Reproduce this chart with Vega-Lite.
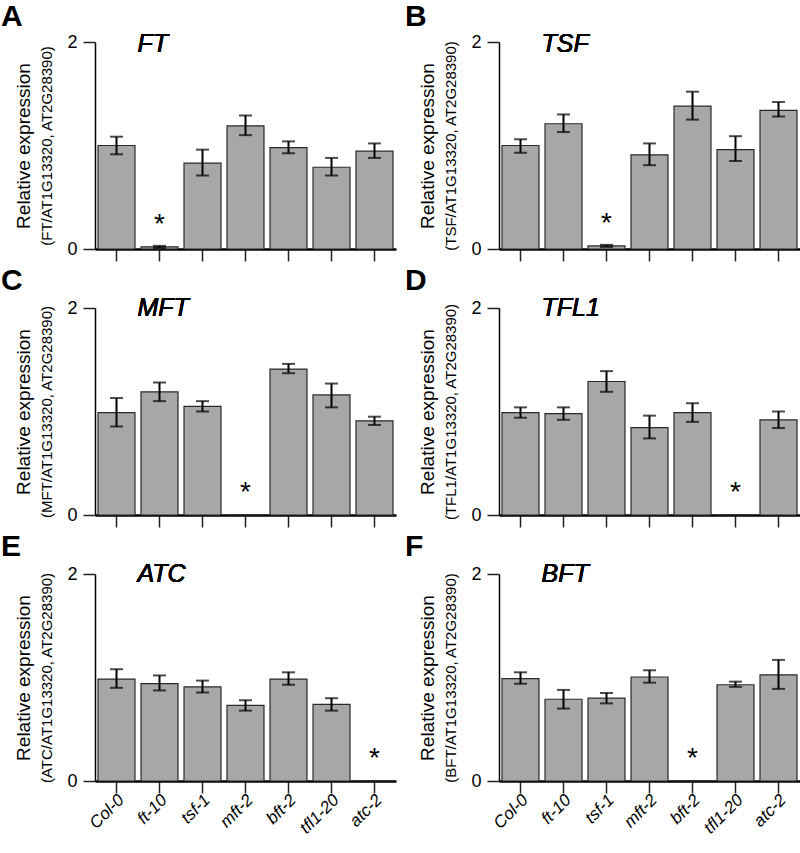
{
  "$schema": "https://vega.github.io/schema/vega-lite/v6.json",
  "background": "white",
  "padding": {"left": 0, "top": 2, "right": 0, "bottom": 0},
  "config": {
    "font": "Liberation Sans",
    "view": {"stroke": null},
    "axis": {"grid": false, "domainColor": "black", "tickColor": "#222222", "labelColor": "black", "titleColor": "black", "titleFontWeight": "normal"},
    "title": {"color": "black"}
  },
  "data": {"values": [
    {"panel": "A", "genotype": "Col-0", "mean": 1.00, "lo": 0.915, "hi": 1.085, "sig": null},
    {"panel": "A", "genotype": "ft-10", "mean": 0.02, "lo": 0.01, "hi": 0.03, "sig": "*"},
    {"panel": "A", "genotype": "tsf-1", "mean": 0.83, "lo": 0.71, "hi": 0.96, "sig": null},
    {"panel": "A", "genotype": "mft-2", "mean": 1.19, "lo": 1.10, "hi": 1.29, "sig": null},
    {"panel": "A", "genotype": "bft-2", "mean": 0.98, "lo": 0.925, "hi": 1.04, "sig": null},
    {"panel": "A", "genotype": "tfl1-20", "mean": 0.79, "lo": 0.71, "hi": 0.88, "sig": null},
    {"panel": "A", "genotype": "atc-2", "mean": 0.945, "lo": 0.88, "hi": 1.02, "sig": null},
    {"panel": "B", "genotype": "Col-0", "mean": 1.00, "lo": 0.93, "hi": 1.06, "sig": null},
    {"panel": "B", "genotype": "ft-10", "mean": 1.21, "lo": 1.13, "hi": 1.30, "sig": null},
    {"panel": "B", "genotype": "tsf-1", "mean": 0.03, "lo": 0.02, "hi": 0.04, "sig": "*"},
    {"panel": "B", "genotype": "mft-2", "mean": 0.91, "lo": 0.81, "hi": 1.02, "sig": null},
    {"panel": "B", "genotype": "bft-2", "mean": 1.38, "lo": 1.25, "hi": 1.52, "sig": null},
    {"panel": "B", "genotype": "tfl1-20", "mean": 0.96, "lo": 0.85, "hi": 1.09, "sig": null},
    {"panel": "B", "genotype": "atc-2", "mean": 1.34, "lo": 1.28, "hi": 1.42, "sig": null},
    {"panel": "C", "genotype": "Col-0", "mean": 0.99, "lo": 0.855, "hi": 1.13, "sig": null},
    {"panel": "C", "genotype": "ft-10", "mean": 1.19, "lo": 1.10, "hi": 1.28, "sig": null},
    {"panel": "C", "genotype": "tsf-1", "mean": 1.05, "lo": 1.00, "hi": 1.10, "sig": null},
    {"panel": "C", "genotype": "mft-2", "mean": 0, "lo": null, "hi": null, "sig": "*"},
    {"panel": "C", "genotype": "bft-2", "mean": 1.41, "lo": 1.37, "hi": 1.46, "sig": null},
    {"panel": "C", "genotype": "tfl1-20", "mean": 1.16, "lo": 1.04, "hi": 1.27, "sig": null},
    {"panel": "C", "genotype": "atc-2", "mean": 0.91, "lo": 0.87, "hi": 0.95, "sig": null},
    {"panel": "D", "genotype": "Col-0", "mean": 0.99, "lo": 0.94, "hi": 1.04, "sig": null},
    {"panel": "D", "genotype": "ft-10", "mean": 0.98, "lo": 0.92, "hi": 1.04, "sig": null},
    {"panel": "D", "genotype": "tsf-1", "mean": 1.29, "lo": 1.19, "hi": 1.39, "sig": null},
    {"panel": "D", "genotype": "mft-2", "mean": 0.845, "lo": 0.74, "hi": 0.96, "sig": null},
    {"panel": "D", "genotype": "bft-2", "mean": 0.99, "lo": 0.90, "hi": 1.08, "sig": null},
    {"panel": "D", "genotype": "tfl1-20", "mean": 0, "lo": null, "hi": null, "sig": "*"},
    {"panel": "D", "genotype": "atc-2", "mean": 0.92, "lo": 0.84, "hi": 1.00, "sig": null},
    {"panel": "E", "genotype": "Col-0", "mean": 0.985, "lo": 0.90, "hi": 1.08, "sig": null},
    {"panel": "E", "genotype": "ft-10", "mean": 0.94, "lo": 0.875, "hi": 1.02, "sig": null},
    {"panel": "E", "genotype": "tsf-1", "mean": 0.91, "lo": 0.855, "hi": 0.97, "sig": null},
    {"panel": "E", "genotype": "mft-2", "mean": 0.73, "lo": 0.68, "hi": 0.78, "sig": null},
    {"panel": "E", "genotype": "bft-2", "mean": 0.985, "lo": 0.93, "hi": 1.05, "sig": null},
    {"panel": "E", "genotype": "tfl1-20", "mean": 0.74, "lo": 0.68, "hi": 0.80, "sig": null},
    {"panel": "E", "genotype": "atc-2", "mean": 0, "lo": null, "hi": null, "sig": "*"},
    {"panel": "F", "genotype": "Col-0", "mean": 0.99, "lo": 0.94, "hi": 1.05, "sig": null},
    {"panel": "F", "genotype": "ft-10", "mean": 0.79, "lo": 0.70, "hi": 0.88, "sig": null},
    {"panel": "F", "genotype": "tsf-1", "mean": 0.80, "lo": 0.75, "hi": 0.85, "sig": null},
    {"panel": "F", "genotype": "mft-2", "mean": 1.005, "lo": 0.95, "hi": 1.07, "sig": null},
    {"panel": "F", "genotype": "bft-2", "mean": 0, "lo": null, "hi": null, "sig": "*"},
    {"panel": "F", "genotype": "tfl1-20", "mean": 0.93, "lo": 0.91, "hi": 0.96, "sig": null},
    {"panel": "F", "genotype": "atc-2", "mean": 1.026, "lo": 0.89, "hi": 1.17, "sig": null}
  ]},
  "columns": 2,
  "spacing": {"row": 4, "column": 8},
  "concat": [
    {
      "width": 301, "height": 207,
      "title": {"text": "A", "anchor": "start", "frame": "bounds", "fontSize": 30, "fontWeight": "bold", "dx": -14, "offset": 0},
      "transform": [{"filter": "datum.panel === 'A'"}],
      "layer": [
        {"mark": {"type": "bar", "fill": "#a7a7a9", "stroke": "#2a2a2a", "strokeWidth": 1.2},
         "encoding": {
           "x": {"field": "genotype", "type": "nominal", "title": null, "scale": {"domain": ["Col-0", "ft-10", "tsf-1", "mft-2", "bft-2", "tfl1-20", "atc-2"], "paddingInner": 0.14, "paddingOuter": 0.07}, "axis": {"labels": false, "domainWidth": 2.5, "tickSize": 12, "tickWidth": 1.5, "title": null}},
           "y": {"field": "mean", "type": "quantitative", "scale": {"domain": [0, 2]}, "axis": {"orient": "left", "values": [0, 1, 2], "format": "d", "title": "Relative expression", "titleFontSize": 19, "titlePadding": 33, "labelFontSize": 18, "labelPadding": 6, "tickSize": 12, "tickWidth": 1.5, "domainWidth": 1.5}}
         }},
        {"mark": {"type": "rule", "color": "black", "strokeWidth": 2},
         "encoding": {
           "x": {"field": "genotype", "type": "nominal", "title": null},
           "y": {"field": "lo", "type": "quantitative", "axis": {"orient": "left", "title": "(FT/AT1G13320, AT2G28390)", "titleFontSize": 15, "titlePadding": 41, "labels": false, "ticks": false, "domain": false}},
           "y2": {"field": "hi"}
         }},
        {"mark": {"type": "tick", "color": "black", "thickness": 2, "size": 13},
         "encoding": {"x": {"field": "genotype", "type": "nominal", "title": null}, "y": {"field": "lo", "type": "quantitative", "axis": null}}},
        {"mark": {"type": "tick", "color": "black", "thickness": 2, "size": 13},
         "encoding": {"x": {"field": "genotype", "type": "nominal", "title": null}, "y": {"field": "hi", "type": "quantitative", "axis": null}}},
        {"transform": [{"filter": "datum.sig"}],
         "mark": {"type": "text", "fontSize": 28, "baseline": "alphabetic", "dy": -14, "color": "black"},
         "encoding": {"x": {"field": "genotype", "type": "nominal", "title": null}, "y": {"field": "mean", "type": "quantitative", "axis": null}, "text": {"field": "sig"}}},
        {"mark": {"type": "text", "text": "FT", "fontSize": 25, "fontStyle": "italic", "align": "left", "baseline": "middle", "dx": -22, "dy": 2, "color": "black"},
         "encoding": {"x": {"datum": "ft-10"}, "y": {"datum": 2, "type": "quantitative", "axis": null}}}
      ],
      "resolve": {"axis": {"y": "independent"}}
    },
    {
      "width": 301, "height": 207,
      "title": {"text": "B", "anchor": "start", "frame": "bounds", "fontSize": 30, "fontWeight": "bold", "dx": -14, "offset": 0},
      "transform": [{"filter": "datum.panel === 'B'"}],
      "layer": [
        {"mark": {"type": "bar", "fill": "#a7a7a9", "stroke": "#2a2a2a", "strokeWidth": 1.2},
         "encoding": {
           "x": {"field": "genotype", "type": "nominal", "title": null, "scale": {"domain": ["Col-0", "ft-10", "tsf-1", "mft-2", "bft-2", "tfl1-20", "atc-2"], "paddingInner": 0.14, "paddingOuter": 0.07}, "axis": {"labels": false, "domainWidth": 2.5, "tickSize": 12, "tickWidth": 1.5, "title": null}},
           "y": {"field": "mean", "type": "quantitative", "scale": {"domain": [0, 2]}, "axis": {"orient": "left", "values": [0, 1, 2], "format": "d", "title": "Relative expression", "titleFontSize": 19, "titlePadding": 33, "labelFontSize": 18, "labelPadding": 6, "tickSize": 12, "tickWidth": 1.5, "domainWidth": 1.5}}
         }},
        {"mark": {"type": "rule", "color": "black", "strokeWidth": 2},
         "encoding": {
           "x": {"field": "genotype", "type": "nominal", "title": null},
           "y": {"field": "lo", "type": "quantitative", "axis": {"orient": "left", "title": "(TSF/AT1G13320, AT2G28390)", "titleFontSize": 15, "titlePadding": 41, "labels": false, "ticks": false, "domain": false}},
           "y2": {"field": "hi"}
         }},
        {"mark": {"type": "tick", "color": "black", "thickness": 2, "size": 13},
         "encoding": {"x": {"field": "genotype", "type": "nominal", "title": null}, "y": {"field": "lo", "type": "quantitative", "axis": null}}},
        {"mark": {"type": "tick", "color": "black", "thickness": 2, "size": 13},
         "encoding": {"x": {"field": "genotype", "type": "nominal", "title": null}, "y": {"field": "hi", "type": "quantitative", "axis": null}}},
        {"transform": [{"filter": "datum.sig"}],
         "mark": {"type": "text", "fontSize": 28, "baseline": "alphabetic", "dy": -14, "color": "black"},
         "encoding": {"x": {"field": "genotype", "type": "nominal", "title": null}, "y": {"field": "mean", "type": "quantitative", "axis": null}, "text": {"field": "sig"}}},
        {"mark": {"type": "text", "text": "TSF", "fontSize": 25, "fontStyle": "italic", "align": "left", "baseline": "middle", "dx": -22, "dy": 2, "color": "black"},
         "encoding": {"x": {"datum": "ft-10"}, "y": {"datum": 2, "type": "quantitative", "axis": null}}}
      ],
      "resolve": {"axis": {"y": "independent"}}
    },
    {
      "width": 301, "height": 207,
      "title": {"text": "C", "anchor": "start", "frame": "bounds", "fontSize": 30, "fontWeight": "bold", "dx": -14, "offset": 0},
      "transform": [{"filter": "datum.panel === 'C'"}],
      "layer": [
        {"mark": {"type": "bar", "fill": "#a7a7a9", "stroke": "#2a2a2a", "strokeWidth": 1.2},
         "encoding": {
           "x": {"field": "genotype", "type": "nominal", "title": null, "scale": {"domain": ["Col-0", "ft-10", "tsf-1", "mft-2", "bft-2", "tfl1-20", "atc-2"], "paddingInner": 0.14, "paddingOuter": 0.07}, "axis": {"labels": false, "domainWidth": 2.5, "tickSize": 12, "tickWidth": 1.5, "title": null}},
           "y": {"field": "mean", "type": "quantitative", "scale": {"domain": [0, 2]}, "axis": {"orient": "left", "values": [0, 1, 2], "format": "d", "title": "Relative expression", "titleFontSize": 19, "titlePadding": 33, "labelFontSize": 18, "labelPadding": 6, "tickSize": 12, "tickWidth": 1.5, "domainWidth": 1.5}}
         }},
        {"mark": {"type": "rule", "color": "black", "strokeWidth": 2},
         "encoding": {
           "x": {"field": "genotype", "type": "nominal", "title": null},
           "y": {"field": "lo", "type": "quantitative", "axis": {"orient": "left", "title": "(MFT/AT1G13320, AT2G28390)", "titleFontSize": 15, "titlePadding": 41, "labels": false, "ticks": false, "domain": false}},
           "y2": {"field": "hi"}
         }},
        {"mark": {"type": "tick", "color": "black", "thickness": 2, "size": 13},
         "encoding": {"x": {"field": "genotype", "type": "nominal", "title": null}, "y": {"field": "lo", "type": "quantitative", "axis": null}}},
        {"mark": {"type": "tick", "color": "black", "thickness": 2, "size": 13},
         "encoding": {"x": {"field": "genotype", "type": "nominal", "title": null}, "y": {"field": "hi", "type": "quantitative", "axis": null}}},
        {"transform": [{"filter": "datum.sig"}],
         "mark": {"type": "text", "fontSize": 28, "baseline": "alphabetic", "dy": -14, "color": "black"},
         "encoding": {"x": {"field": "genotype", "type": "nominal", "title": null}, "y": {"field": "mean", "type": "quantitative", "axis": null}, "text": {"field": "sig"}}},
        {"mark": {"type": "text", "text": "MFT", "fontSize": 25, "fontStyle": "italic", "align": "left", "baseline": "middle", "dx": -22, "dy": 0, "color": "black"},
         "encoding": {"x": {"datum": "ft-10"}, "y": {"datum": 2, "type": "quantitative", "axis": null}}}
      ],
      "resolve": {"axis": {"y": "independent"}}
    },
    {
      "width": 301, "height": 207,
      "title": {"text": "D", "anchor": "start", "frame": "bounds", "fontSize": 30, "fontWeight": "bold", "dx": -14, "offset": 0},
      "transform": [{"filter": "datum.panel === 'D'"}],
      "layer": [
        {"mark": {"type": "bar", "fill": "#a7a7a9", "stroke": "#2a2a2a", "strokeWidth": 1.2},
         "encoding": {
           "x": {"field": "genotype", "type": "nominal", "title": null, "scale": {"domain": ["Col-0", "ft-10", "tsf-1", "mft-2", "bft-2", "tfl1-20", "atc-2"], "paddingInner": 0.14, "paddingOuter": 0.07}, "axis": {"labels": false, "domainWidth": 2.5, "tickSize": 12, "tickWidth": 1.5, "title": null}},
           "y": {"field": "mean", "type": "quantitative", "scale": {"domain": [0, 2]}, "axis": {"orient": "left", "values": [0, 1, 2], "format": "d", "title": "Relative expression", "titleFontSize": 19, "titlePadding": 33, "labelFontSize": 18, "labelPadding": 6, "tickSize": 12, "tickWidth": 1.5, "domainWidth": 1.5}}
         }},
        {"mark": {"type": "rule", "color": "black", "strokeWidth": 2},
         "encoding": {
           "x": {"field": "genotype", "type": "nominal", "title": null},
           "y": {"field": "lo", "type": "quantitative", "axis": {"orient": "left", "title": "(TFL1/AT1G13320, AT2G28390)", "titleFontSize": 15, "titlePadding": 41, "labels": false, "ticks": false, "domain": false}},
           "y2": {"field": "hi"}
         }},
        {"mark": {"type": "tick", "color": "black", "thickness": 2, "size": 13},
         "encoding": {"x": {"field": "genotype", "type": "nominal", "title": null}, "y": {"field": "lo", "type": "quantitative", "axis": null}}},
        {"mark": {"type": "tick", "color": "black", "thickness": 2, "size": 13},
         "encoding": {"x": {"field": "genotype", "type": "nominal", "title": null}, "y": {"field": "hi", "type": "quantitative", "axis": null}}},
        {"transform": [{"filter": "datum.sig"}],
         "mark": {"type": "text", "fontSize": 28, "baseline": "alphabetic", "dy": -14, "color": "black"},
         "encoding": {"x": {"field": "genotype", "type": "nominal", "title": null}, "y": {"field": "mean", "type": "quantitative", "axis": null}, "text": {"field": "sig"}}},
        {"mark": {"type": "text", "text": "TFL1", "fontSize": 25, "fontStyle": "italic", "align": "left", "baseline": "middle", "dx": -22, "dy": 0, "color": "black"},
         "encoding": {"x": {"datum": "ft-10"}, "y": {"datum": 2, "type": "quantitative", "axis": null}}}
      ],
      "resolve": {"axis": {"y": "independent"}}
    },
    {
      "width": 301, "height": 207,
      "title": {"text": "E", "anchor": "start", "frame": "bounds", "fontSize": 30, "fontWeight": "bold", "dx": -14, "offset": 0},
      "transform": [{"filter": "datum.panel === 'E'"}],
      "layer": [
        {"mark": {"type": "bar", "fill": "#a7a7a9", "stroke": "#2a2a2a", "strokeWidth": 1.2},
         "encoding": {
           "x": {"field": "genotype", "type": "nominal", "title": null, "scale": {"domain": ["Col-0", "ft-10", "tsf-1", "mft-2", "bft-2", "tfl1-20", "atc-2"], "paddingInner": 0.14, "paddingOuter": 0.07}, "axis": {"labels": true, "labelAngle": -45, "labelAlign": "right", "labelBaseline": "middle", "labelFontSize": 17, "labelFontStyle": "italic", "labelPadding": 4, "labelOffset": 5, "domainWidth": 2.5, "tickSize": 12, "tickWidth": 1.5, "title": null}},
           "y": {"field": "mean", "type": "quantitative", "scale": {"domain": [0, 2]}, "axis": {"orient": "left", "values": [0, 1, 2], "format": "d", "title": "Relative expression", "titleFontSize": 19, "titlePadding": 33, "labelFontSize": 18, "labelPadding": 6, "tickSize": 12, "tickWidth": 1.5, "domainWidth": 1.5}}
         }},
        {"mark": {"type": "rule", "color": "black", "strokeWidth": 2},
         "encoding": {
           "x": {"field": "genotype", "type": "nominal", "title": null},
           "y": {"field": "lo", "type": "quantitative", "axis": {"orient": "left", "title": "(ATC/AT1G13320, AT2G28390)", "titleFontSize": 15, "titlePadding": 41, "labels": false, "ticks": false, "domain": false}},
           "y2": {"field": "hi"}
         }},
        {"mark": {"type": "tick", "color": "black", "thickness": 2, "size": 13},
         "encoding": {"x": {"field": "genotype", "type": "nominal", "title": null}, "y": {"field": "lo", "type": "quantitative", "axis": null}}},
        {"mark": {"type": "tick", "color": "black", "thickness": 2, "size": 13},
         "encoding": {"x": {"field": "genotype", "type": "nominal", "title": null}, "y": {"field": "hi", "type": "quantitative", "axis": null}}},
        {"transform": [{"filter": "datum.sig"}],
         "mark": {"type": "text", "fontSize": 28, "baseline": "alphabetic", "dy": -14, "color": "black"},
         "encoding": {"x": {"field": "genotype", "type": "nominal", "title": null}, "y": {"field": "mean", "type": "quantitative", "axis": null}, "text": {"field": "sig"}}},
        {"mark": {"type": "text", "text": "ATC", "fontSize": 25, "fontStyle": "italic", "align": "left", "baseline": "middle", "dx": -22, "dy": 0, "color": "black"},
         "encoding": {"x": {"datum": "ft-10"}, "y": {"datum": 2, "type": "quantitative", "axis": null}}}
      ],
      "resolve": {"axis": {"y": "independent"}}
    },
    {
      "width": 301, "height": 207,
      "title": {"text": "F", "anchor": "start", "frame": "bounds", "fontSize": 30, "fontWeight": "bold", "dx": -14, "offset": 0},
      "transform": [{"filter": "datum.panel === 'F'"}],
      "layer": [
        {"mark": {"type": "bar", "fill": "#a7a7a9", "stroke": "#2a2a2a", "strokeWidth": 1.2},
         "encoding": {
           "x": {"field": "genotype", "type": "nominal", "title": null, "scale": {"domain": ["Col-0", "ft-10", "tsf-1", "mft-2", "bft-2", "tfl1-20", "atc-2"], "paddingInner": 0.14, "paddingOuter": 0.07}, "axis": {"labels": true, "labelAngle": -45, "labelAlign": "right", "labelBaseline": "middle", "labelFontSize": 17, "labelFontStyle": "italic", "labelPadding": 4, "labelOffset": 5, "domainWidth": 2.5, "tickSize": 12, "tickWidth": 1.5, "title": null}},
           "y": {"field": "mean", "type": "quantitative", "scale": {"domain": [0, 2]}, "axis": {"orient": "left", "values": [0, 1, 2], "format": "d", "title": "Relative expression", "titleFontSize": 19, "titlePadding": 33, "labelFontSize": 18, "labelPadding": 6, "tickSize": 12, "tickWidth": 1.5, "domainWidth": 1.5}}
         }},
        {"mark": {"type": "rule", "color": "black", "strokeWidth": 2},
         "encoding": {
           "x": {"field": "genotype", "type": "nominal", "title": null},
           "y": {"field": "lo", "type": "quantitative", "axis": {"orient": "left", "title": "(BFT/AT1G13320, AT2G28390)", "titleFontSize": 15, "titlePadding": 41, "labels": false, "ticks": false, "domain": false}},
           "y2": {"field": "hi"}
         }},
        {"mark": {"type": "tick", "color": "black", "thickness": 2, "size": 13},
         "encoding": {"x": {"field": "genotype", "type": "nominal", "title": null}, "y": {"field": "lo", "type": "quantitative", "axis": null}}},
        {"mark": {"type": "tick", "color": "black", "thickness": 2, "size": 13},
         "encoding": {"x": {"field": "genotype", "type": "nominal", "title": null}, "y": {"field": "hi", "type": "quantitative", "axis": null}}},
        {"transform": [{"filter": "datum.sig"}],
         "mark": {"type": "text", "fontSize": 28, "baseline": "alphabetic", "dy": -14, "color": "black"},
         "encoding": {"x": {"field": "genotype", "type": "nominal", "title": null}, "y": {"field": "mean", "type": "quantitative", "axis": null}, "text": {"field": "sig"}}},
        {"mark": {"type": "text", "text": "BFT", "fontSize": 25, "fontStyle": "italic", "align": "left", "baseline": "middle", "dx": -22, "dy": 0, "color": "black"},
         "encoding": {"x": {"datum": "ft-10"}, "y": {"datum": 2, "type": "quantitative", "axis": null}}}
      ],
      "resolve": {"axis": {"y": "independent"}}
    }
  ]
}
